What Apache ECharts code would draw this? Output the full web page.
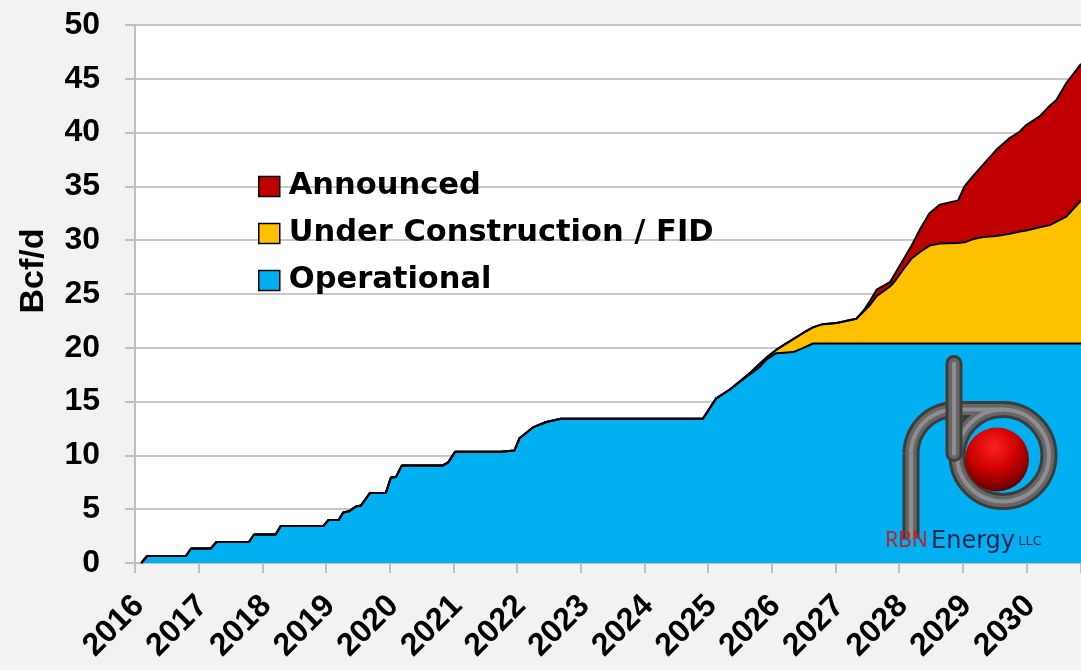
<!DOCTYPE html>
<html>
<head>
<meta charset="utf-8">
<script src="https://cdn.jsdelivr.net/npm/echarts@6/dist/echarts.min.js"></script>
<style>
  html, body { margin: 0; padding: 0; background: #f2f2f2; }
  #chart { width: 1081px; height: 670px; }
</style>
</head>
<body>
<div id="chart"></div>
<script>
// decimal years along the x axis
const years = [
  2016.10, 2016.19, 2016.80, 2016.88, 2017.19, 2017.28, 2017.79, 2017.87, 2018.21, 2018.29,
  2018.96, 2019.04, 2019.20, 2019.27, 2019.36, 2019.47, 2019.55, 2019.69, 2019.94, 2020.02,
  2020.10, 2020.19, 2020.83, 2020.92, 2021.03, 2021.75, 2021.96, 2022.04, 2022.25, 2022.46,
  2022.69, 2024.92, 2025.13, 2025.34, 2025.65, 2025.81, 2025.92, 2026.07, 2026.20, 2026.34,
  2026.50, 2026.65, 2026.80, 2027.02, 2027.33, 2027.45, 2027.55, 2027.65, 2027.86, 2027.95,
  2028.07, 2028.20, 2028.33, 2028.48, 2028.64, 2028.93, 2029.03, 2029.17, 2029.32, 2029.53,
  2029.74, 2029.90, 2030.00, 2030.21, 2030.37, 2030.47, 2030.63, 2030.86
]

// Bcf/d, each layer sits on top of the one below
const operational = [
  0, 0.65, 0.65, 1.35, 1.35, 1.95, 1.95, 2.65, 2.65, 3.45,
  3.45, 4.0, 4.0, 4.7, 4.8, 5.25, 5.35, 6.5, 6.5, 7.95,
  8.0, 9.05, 9.05, 9.35, 10.35, 10.35, 10.45, 11.6, 12.6, 13.1,
  13.4, 13.4, 15.3, 16.1, 17.5, 18.2, 18.9, 19.5, 19.55, 19.6,
  20.0, 20.4, 20.4, 20.4, 20.4, 20.4, 20.4, 20.4, 20.4, 20.4,
  20.4, 20.4, 20.4, 20.4, 20.4, 20.4, 20.4, 20.4, 20.4, 20.4,
  20.4, 20.4, 20.4, 20.4, 20.4, 20.4, 20.4, 20.4
]
const underConstruction = [
  0, 0, 0, 0, 0, 0, 0, 0, 0, 0,
  0, 0, 0, 0, 0, 0, 0, 0, 0, 0,
  0, 0, 0, 0, 0, 0, 0, 0, 0, 0,
  0, 0, 0, 0, 0.1, 0.3, 0.2, 0.3, 0.75, 1.2,
  1.4, 1.5, 1.8, 1.9, 2.3, 3.0, 3.6, 4.4, 5.3, 5.9,
  6.9, 7.9, 8.5, 9.1, 9.3, 9.35, 9.4, 9.7, 9.9, 10.0,
  10.2, 10.4, 10.5, 10.8, 11.0, 11.3, 11.8, 13.3
]
const announced = [
  0, 0, 0, 0, 0, 0, 0, 0, 0, 0,
  0, 0, 0, 0, 0, 0, 0, 0, 0, 0,
  0, 0, 0, 0, 0, 0, 0, 0, 0, 0,
  0, 0, 0, 0, 0, 0, 0, 0, 0, 0,
  0, 0, 0, 0, 0, 0.1, 0.4, 0.6, 0.4, 0.7,
  0.9, 1.2, 2.1, 3.0, 3.6, 3.95, 5.2, 5.9, 6.7, 8.0,
  8.9, 9.3, 9.8, 10.3, 11.1, 11.3, 12.4, 12.7
]

const yearTicks = [2016, 2017, 2018, 2019, 2020, 2021, 2022, 2023, 2024, 2025, 2026, 2027, 2028, 2029, 2030]
const yTicks = [0, 5, 10, 15, 20, 25, 30, 35, 40, 45, 50]

const seriesNames = ['Operational', 'Under Construction / FID', 'Announced']
const seriesColors = ['#00b0f0', '#ffc000', '#c00000']
const layers = [operational, underConstruction, announced]

// running totals so every layer is filled down to zero, top layer drawn first
const tops = []
layers.forEach((vals, i) => {
  tops.push(vals.map((v, k) => +(v + (i ? tops[i - 1][k] : 0)).toFixed(2)))
})

const font = 'Liberation Sans'

// quarter bend of the "r" in the logo
const bend = []
for (let a = 0; a <= 16; a++) {
  const t = Math.PI + a / 16 * Math.PI / 2
  bend.push([75 + 44 * Math.cos(t), 100 + 44 * Math.sin(t)])
}
// pipe drawn as three strokes, dark edge to light middle
const pipeShades = [['#3c3c3c', 17], ['#666666', 11], ['#8e8e8e', 4]]
const pipeParts = []
pipeShades.forEach(([c, w]) => {
  pipeParts.push(
    { type: 'circle', z: 100, shape: { cx: 123, cy: 102, r: 46 }, style: { fill: null, stroke: c, lineWidth: w } },
    { type: 'line', z: 100, shape: { x1: 31, y1: 185, x2: 31, y2: 100 }, style: { stroke: c, lineWidth: w } },
    { type: 'polyline', z: 100, shape: { points: bend }, style: { stroke: c, lineWidth: w, fill: null } },
    { type: 'line', z: 100, shape: { x1: 75, y1: 56, x2: 123, y2: 56 }, style: { stroke: c, lineWidth: w } }
  )
})
const stemParts = pipeShades.map(([c, w]) => (
  { type: 'line', z: 101, shape: { x1: 74, y1: 10, x2: 74, y2: 100 }, style: { stroke: c, lineWidth: w, lineCap: 'round' } }
))

const logo = {
  id: 'logo', type: 'group', left: 885, top: 355, silent: true, z: 100,
  children: [
    ...pipeParts,
    { type: 'circle', z: 100, shape: { cx: 117, cy: 106, r: 32 },
      style: { fill: { type: 'radial', x: 0.45, y: 0.3, r: 0.75,
        colorStops: [{ offset: 0, color: '#ff2020' }, { offset: 0.5, color: '#cc0000' }, { offset: 1, color: '#560000' }] } } },
    ...stemParts,
    {
      type: 'text', z: 100, x: 5, y: 176,
      style: {
        text: '{r|RBN} {e|Energy} {l|LLC}',
        rich: {
          r: { fontFamily: 'Noto Sans', fontSize: 21, fill: '#c0202a' },
          e: { fontFamily: 'DejaVu Sans', fontSize: 24, fill: '#1f2453' },
          l: { fontFamily: 'DejaVu Sans', fontSize: 13, fill: '#1f2453' }
        }
      }
    }
  ]
}

const chart = echarts.init(document.getElementById('chart'))

const option = {
  backgroundColor: '#f2f2f2',
  animation: false,
  grid: {
    left: 135, right: 0, top: 25, bottom: 107,
    show: true, backgroundColor: '#ffffff', borderWidth: 0
  },
  legend: {
    orient: 'vertical',
    left: 253, top: 166,
    itemGap: 16,
    itemWidth: 21, itemHeight: 20,
    icon: 'rect',
    data: ['Announced', 'Under Construction / FID', 'Operational'],
    itemStyle: { borderColor: '#000', borderWidth: 1.5 },
    textStyle: { fontFamily: 'DejaVu Sans', fontWeight: 'bold', fontSize: 30.5, color: '#000', padding: [0, 0, 0, 4] }
  },
  xAxis: {
    type: 'value',
    min: 2016, max: 2030.86, interval: 1,
    axisLine: { show: true, lineStyle: { color: '#bfbfbf', width: 2 } },
    axisTick: { show: true, length: 10, lineStyle: { color: '#bfbfbf', width: 2 } },
    splitLine: { show: false },
    axisLabel: { show: false }
  },
  yAxis: {
    type: 'value',
    min: yTicks[0], max: yTicks[yTicks.length - 1], interval: yTicks[1] - yTicks[0],
    name: 'Bcf/d',
    nameLocation: 'middle',
    nameGap: 84,
    nameTextStyle: { fontFamily: font, fontWeight: 'bold', fontSize: 34, color: '#000', padding: [0, 0, 0, 46] },
    axisLine: { show: true, lineStyle: { color: '#bfbfbf', width: 2 } },
    axisTick: { show: true, length: 10, lineStyle: { color: '#bfbfbf', width: 2 } },
    splitLine: { show: true, lineStyle: { color: '#c8c8c8', width: 2 } },
    axisLabel: {
      margin: 35,
      fontFamily: font, fontWeight: 'bold', fontSize: 32, color: '#000'
    }
  },
  series: [2, 1, 0].map(i => ({
    name: seriesNames[i],
    type: 'line',
    symbol: 'none',
    color: seriesColors[i],
    lineStyle: { color: '#000', width: 2 },
    areaStyle: { color: seriesColors[i], opacity: 1 },
    data: years.map((y, k) => [y, tops[i][k]])
  })),
  graphic: [logo]
}

chart.setOption(option)

// slanted year labels, placed at the tick positions given by the x scale
const yearLabels = yearTicks.map(y => {
  const [px, py] = chart.convertToPixel({ xAxisIndex: 0, yAxisIndex: 0 }, [y, 0])
  return {
    type: 'text', silent: true,
    x: px + 4, y: py + 38,
    rotation: Math.PI / 4,
    style: {
      text: String(y),
      fontFamily: font, fontWeight: 'bold', fontSize: 32, fill: '#000',
      align: 'right', verticalAlign: 'middle'
    }
  }
})
chart.setOption({ graphic: [logo, { id: 'years', type: 'group', children: yearLabels }] })
</script>
</body>
</html>
